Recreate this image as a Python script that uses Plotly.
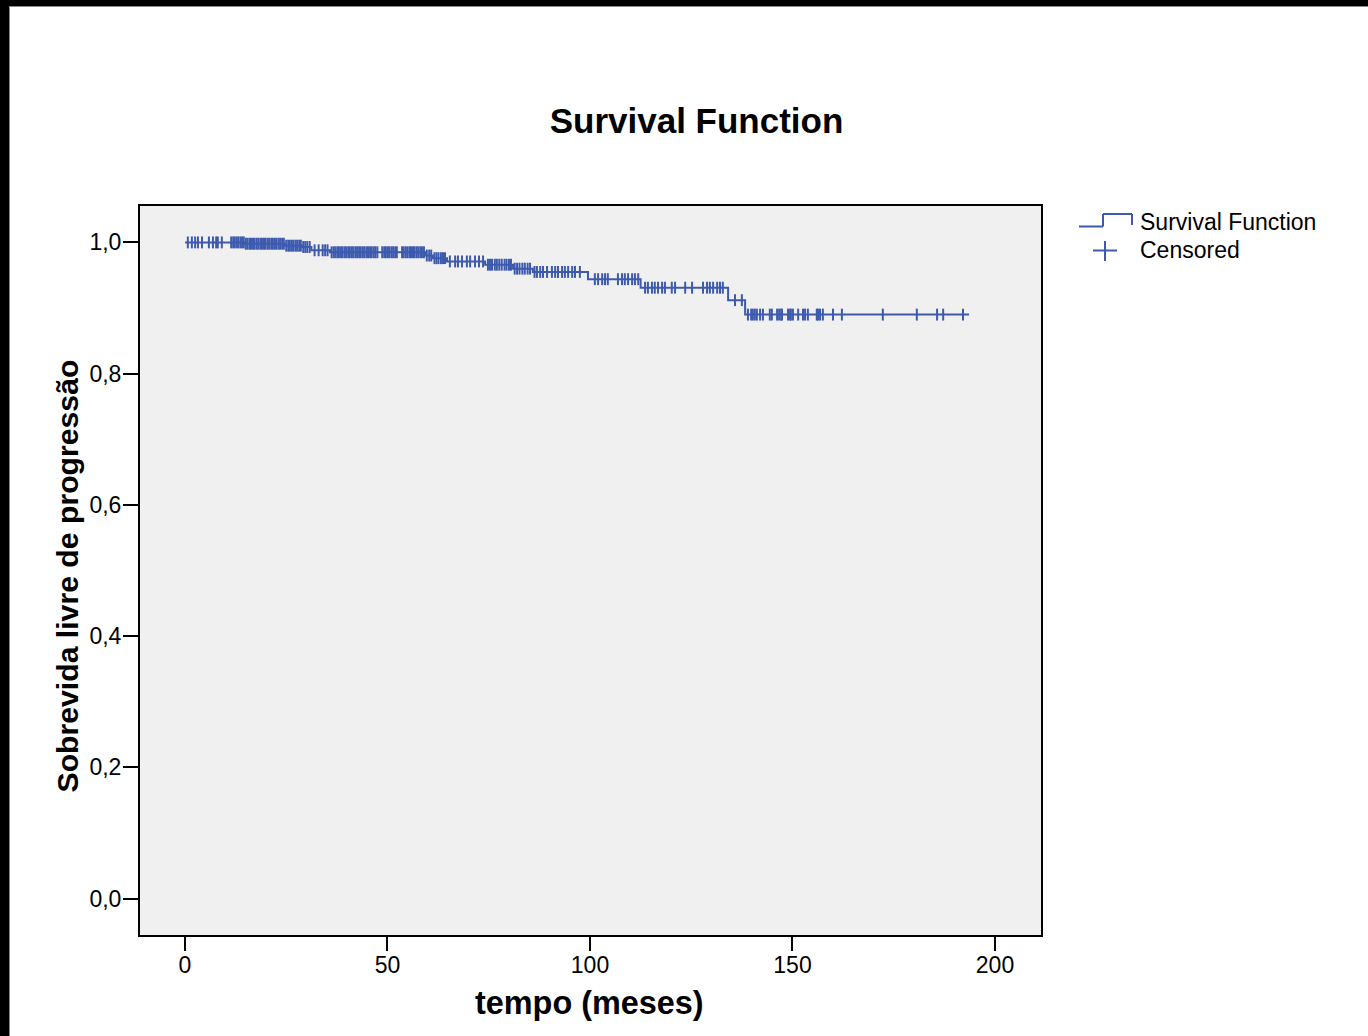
import plotly.graph_objects as go

# ---------------- data ----------------
event_times = [14.8, 24.7, 28.9, 31.2, 35.8, 59.3, 61.2, 64.7, 74.1, 81.0,
               85.9, 99.5, 112.5, 134.1, 138.3]
survival = [0.998, 0.995, 0.993, 0.988, 0.985, 0.980, 0.976, 0.971, 0.966, 0.960,
            0.955, 0.944, 0.931, 0.912, 0.890]
start_time = 0.0
end_time = 193.6

censored_times = [
    0.7, 1.7, 2.5, 3.2, 4.2, 5.9, 6.9, 7.7, 8.1, 9.1,
    11.4, 11.9, 12.3, 12.8, 13.2, 13.7, 14.1, 14.5,
    15.0, 15.4, 15.9, 16.3, 16.8, 17.2, 17.7, 18.1, 18.6, 19.0, 19.5, 19.9,
    20.4, 20.8, 21.3, 21.7, 22.2, 22.6, 23.1, 23.5, 24.0, 24.4,
    25.0, 25.5, 25.9, 26.4, 26.8, 27.3, 27.7, 28.2, 28.6,
    29.2, 29.7, 30.2, 30.8,
    32.0, 33.0, 34.0, 34.6, 35.2,
    36.2, 36.7, 37.1, 37.6, 38.0, 38.5, 38.9, 39.4, 39.8, 40.3, 40.7, 41.2,
    41.6, 42.1, 42.5, 43.0, 43.4, 43.9, 44.3, 44.8, 45.2, 45.7, 46.1, 46.6,
    47.0, 47.5, 48.7, 49.2, 49.6, 50.1, 50.5, 51.0, 51.4, 51.9, 52.3, 53.6,
    54.0, 54.5, 54.9, 55.4, 55.8, 56.3, 56.7, 57.2, 57.6, 58.1, 58.5, 59.0,
    59.7, 60.3, 60.8,
    61.6, 62.1, 62.6, 63.2, 63.7, 64.2,
    65.4, 66.7, 67.4, 68.4, 69.6, 70.4, 71.6, 72.6, 73.6,
    74.8, 75.3, 75.8, 76.5, 77.0, 77.6, 78.2, 78.9, 79.4, 80.0, 80.5,
    81.4, 82.0, 82.6, 83.3, 83.9, 84.6, 85.2,
    86.3, 86.9, 87.7, 88.4, 89.4, 90.6, 91.4, 92.1, 93.1, 93.8, 94.6, 95.6,
    96.3, 97.5,
    101.2, 102.0, 103.0, 103.7, 104.4, 106.9, 107.9, 108.6, 109.4, 110.4,
    111.1, 111.9,
    113.6, 114.3, 115.3, 116.0, 116.8, 117.8, 118.5, 120.2, 121.0, 123.5,
    125.2, 127.9, 128.9, 129.6, 130.4, 131.4, 132.1, 132.8,
    135.8, 137.5,
    139.0, 139.8, 140.2, 140.7, 141.2, 142.0, 142.7, 144.4, 144.9, 146.2,
    146.7, 147.2, 147.4, 148.9, 149.4, 149.6, 150.1, 151.4, 152.6, 153.1,
    153.8, 156.0, 156.3, 156.8, 157.5, 160.0, 162.2, 172.3, 180.7, 185.7,
    187.2, 192.1,
]

x_ticks = [0, 50, 100, 150, 200]
y_ticks = [0.0, 0.2, 0.4, 0.6, 0.8, 1.0]

title_text = "Survival Function"
x_title = "tempo (meses)"
y_title = "Sobrevida livre de progressão"
legend_labels = ["Survival Function", "Censored"]

# ---------------- derived ----------------
step_x = [start_time] + event_times + [end_time]
step_y = [1.0] + survival + [survival[-1]]


def surv_at(t):
    s = 1.0
    for et, sv in zip(event_times, survival):
        if et <= t:
            s = sv
    return s


cens_y = [surv_at(t) for t in censored_times]

COLOR = "#3d5aae"
FONT = "Liberation Sans, Arial, Helvetica, sans-serif"

W, H = 1368, 1036
L, R, T, B = 140, 1041, 206, 935


def px(x):
    return (x - L) / (R - L)


def py(y):
    return (B - y) / (B - T)


fig = go.Figure()
fig.add_trace(go.Scatter(
    x=step_x, y=step_y, mode="lines", line=dict(color=COLOR, width=2, shape="hv"),
    name=legend_labels[0], showlegend=False, hoverinfo="skip"))
fig.add_trace(go.Scatter(
    x=censored_times, y=cens_y, mode="markers",
    marker=dict(symbol="line-ns", size=8.5, line=dict(color=COLOR, width=2)),
    name=legend_labels[1], showlegend=False))

shapes = []
# custom legend: step icon
for (x0, y0, x1, y1) in [(1079, 226.5, 1103, 226.5), (1103, 226.5, 1103, 214),
                         (1103, 214, 1132, 214), (1132, 214, 1132, 225)]:
    shapes.append(dict(type="line", xref="paper", yref="paper",
                       x0=px(x0), y0=py(y0), x1=px(x1), y1=py(y1),
                       line=dict(color=COLOR, width=2)))
# cross icon
for (x0, y0, x1, y1) in [(1093, 250.5, 1117, 250.5), (1105, 241, 1105, 261)]:
    shapes.append(dict(type="line", xref="paper", yref="paper",
                       x0=px(x0), y0=py(y0), x1=px(x1), y1=py(y1),
                       line=dict(color=COLOR, width=2)))
# black window border (top and left)
shapes.append(dict(type="rect", xref="paper", yref="paper", layer="above",
                   x0=px(0), x1=px(9), y0=py(H), y1=py(0),
                   fillcolor="black", line=dict(width=0)))
shapes.append(dict(type="rect", xref="paper", yref="paper", layer="above",
                   x0=px(0), x1=px(W), y0=py(6), y1=py(0),
                   fillcolor="black", line=dict(width=0)))
shapes.append(dict(type="line", xref="paper", yref="paper", layer="above",
                   x0=px(9.5), x1=px(9.5), y0=py(6), y1=py(H),
                   line=dict(color="#888888", width=1)))
shapes.append(dict(type="line", xref="paper", yref="paper", layer="above",
                   x0=px(9), x1=px(W), y0=py(6.5), y1=py(6.5),
                   line=dict(color="#888888", width=1)))

annotations = [
    dict(text=legend_labels[0], xref="paper", yref="paper", x=px(1138), y=py(222),
         xanchor="left", yanchor="middle", showarrow=False,
         font=dict(family=FONT, size=23, color="black")),
    dict(text=legend_labels[1], xref="paper", yref="paper", x=px(1138), y=py(250),
         xanchor="left", yanchor="middle", showarrow=False,
         font=dict(family=FONT, size=23, color="black")),
    dict(text=x_title, xref="paper", yref="paper", x=px(589.5), y=py(1003),
         xanchor="center", yanchor="middle", showarrow=False,
         font=dict(family=FONT, size=32.4, color="black", weight="bold")),
    dict(text=y_title, xref="paper", yref="paper", x=px(67), y=py(576.5),
         xanchor="center", yanchor="middle", showarrow=False, textangle=-90,
         font=dict(family=FONT, size=30.2, color="black", weight="bold")),
]

x_lo, x_hi = -11.11, 211.36
y_lo, y_hi = -0.0556, 1.0555

fig.update_layout(
    width=W, height=H,
    margin=dict(l=L, r=W - R, t=T, b=H - B, pad=0),
    paper_bgcolor="white", plot_bgcolor="#f0f0f0",
    separators=",.",
    showlegend=False,
    title=dict(text=title_text, x=696.5 / W, y=1 - 121 / H, xref="container",
               yref="container", xanchor="center", yanchor="middle",
               font=dict(family=FONT, size=35, color="black", weight="bold")),
    xaxis=dict(range=[x_lo, x_hi], tickvals=x_ticks, ticks="outside", ticklen=14,
               tickwidth=2, tickcolor="black", showgrid=False, zeroline=False,
               showline=True, linecolor="black", linewidth=2, mirror=True,
               ticklabelstandoff=-6,
               tickfont=dict(family=FONT, size=23, color="black")),
    yaxis=dict(range=[y_lo, y_hi], tickvals=y_ticks, tickformat=".1f",
               ticks="outside", ticklen=15, tickwidth=2, tickcolor="black",
               showgrid=False, zeroline=False, showline=True, linecolor="black",
               linewidth=2, mirror=True, ticklabelstandoff=-3,
               tickfont=dict(family=FONT, size=23, color="black")),
    shapes=shapes, annotations=annotations,
)

fig.write_html("out.html")
